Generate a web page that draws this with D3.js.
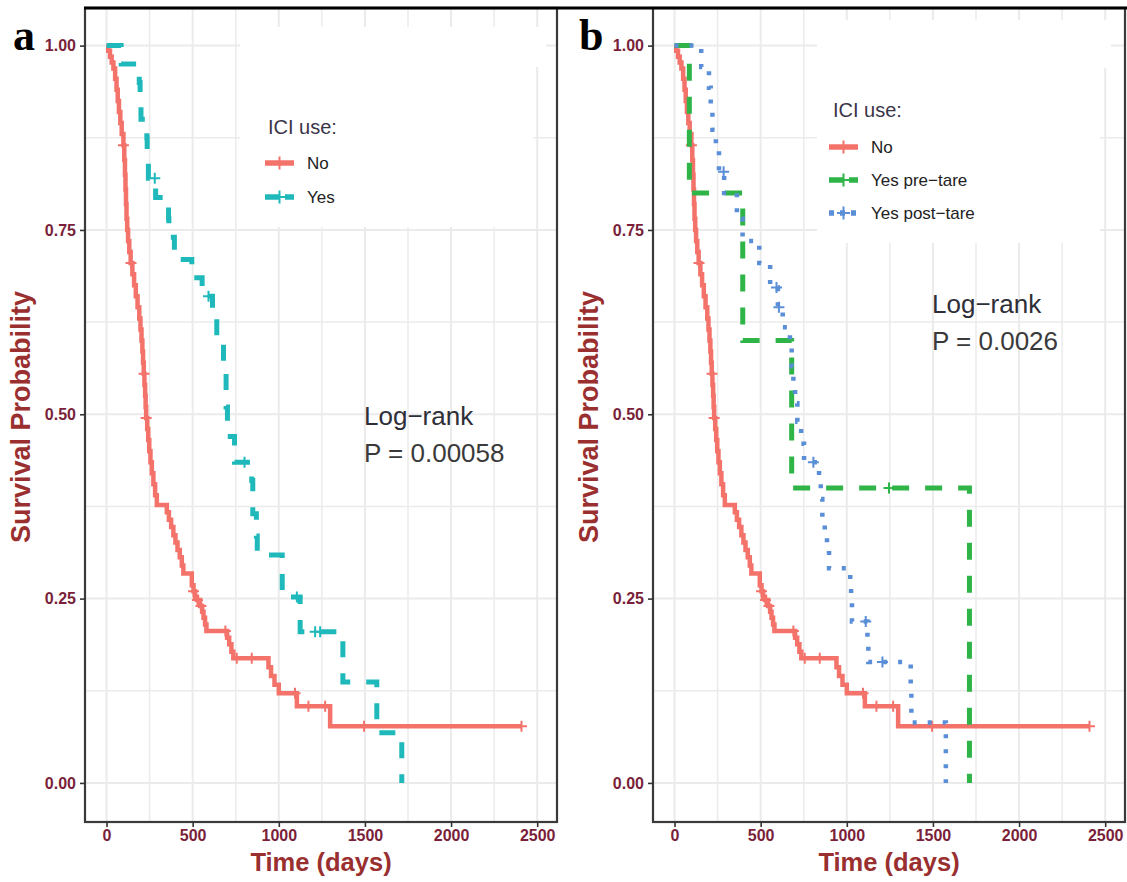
<!DOCTYPE html>
<html>
<head>
<meta charset="utf-8">
<script src="https://cdn.jsdelivr.net/npm/d3@7"></script>
<style>
  body { margin: 0; background: #fff; }
  svg { display: block; }
</style>
</head>
<body>
<div id="container"></div>
<script>
const width = 1127;
const height = 882;

// ICI use: No  (same cohort in both panels)
const noTime = [0, 10, 20, 30, 40, 50, 58, 65, 72, 80, 88, 98, 103, 107, 110, 113, 116, 120, 125, 132,
  140, 150, 160, 170, 180, 190, 197, 203, 208, 212, 216, 220, 224, 227, 230, 236, 242, 248, 255, 263,
  272, 282, 292, 350, 362, 375, 388, 400, 412, 425, 437, 446, 495, 505, 514, 525, 543, 555, 563, 572,
  580, 700, 712, 725, 736, 940, 955, 975, 1000, 1105, 1298];
const noSurv = [1, 0.993, 0.985, 0.977, 0.969, 0.955, 0.94, 0.925, 0.91, 0.895, 0.88, 0.865, 0.845, 0.825, 0.805, 0.785, 0.765, 0.75, 0.735, 0.72,
  0.705, 0.69, 0.675, 0.66, 0.645, 0.63, 0.615, 0.6, 0.585, 0.57, 0.555, 0.54, 0.525, 0.51, 0.495, 0.48, 0.465, 0.45, 0.435, 0.42,
  0.405, 0.39, 0.377, 0.367, 0.357, 0.347, 0.336, 0.326, 0.316, 0.306, 0.295, 0.284, 0.268, 0.26, 0.252, 0.248, 0.24, 0.232, 0.224, 0.215,
  0.206, 0.197, 0.188, 0.178, 0.169, 0.157, 0.145, 0.133, 0.1215, 0.104, 0.077];
const noCensor = [98, 142, 218, 230, 505, 528, 548, 690, 756, 843, 1094, 1172, 1269, 1495, 2409];
const noEnd = 2409;

// ICI use: Yes (panel a)
const yesTime = [0, 85, 190, 195, 200, 234, 236, 243, 285, 360, 362, 394, 495, 555, 615, 640, 679, 694, 702, 743,
  843, 849, 870, 875, 1020, 1124, 1372, 1569, 1714];
const yesSurv = [1, 0.975, 0.95, 0.925, 0.9, 0.875, 0.85, 0.82, 0.794, 0.765, 0.74, 0.71, 0.685, 0.66, 0.634, 0.605, 0.555, 0.51, 0.47, 0.435,
  0.41, 0.365, 0.335, 0.309, 0.252, 0.205, 0.137, 0.068, 0];
const yesCensor = [280, 592, 801, 1105, 1211, 1240];

// Yes pre-tare (panel b)
const preTime = [0, 86, 396, 680, 1712];
const preSurv = [1, 0.8, 0.6, 0.4, 0];
const preCensor = [1245];

// Yes post-tare (panel b)
const postTime = [0, 155, 200, 210, 220, 240, 258, 288, 362, 395, 492, 555, 600, 628, 670, 680, 690, 700, 713, 735,
  752, 839, 849, 858, 872, 885, 897, 1020, 1025, 1030, 1120, 1125, 1371, 1375, 1575];
const postSurv = [1, 0.971, 0.943, 0.914, 0.886, 0.857, 0.829, 0.80, 0.765, 0.735, 0.705, 0.672, 0.645, 0.618, 0.59, 0.565, 0.54, 0.515, 0.49, 0.46,
  0.435, 0.41, 0.385, 0.36, 0.34, 0.315, 0.291, 0.27, 0.245, 0.219, 0.19, 0.164, 0.123, 0.082, 0];
const postCensor = [285, 592, 606, 806, 1110, 1207];

const xTicks = [0, 500, 1000, 1500, 2000, 2500];
const xMinor = [250, 750, 1250, 1750, 2250];
const yTicks = [0, 0.25, 0.5, 0.75, 1];
const yMinor = [0.125, 0.375, 0.625, 0.875];

const colNo = "#f3736b";
const colYes = "#1fb9bb";
const colPre = "#2fb448";
const colPost = "#5a8fd8";

const tickColor = "#7a1f3a";
const titleColor = "#9a2f30";
const font = "'Liberation Sans', Arial, sans-serif";

const plotTop = 8, plotBottom = 822, panelW = 472;

const series = {
  no:   {time: noTime, surv: noSurv, censor: noCensor, end: noEnd, color: colNo, dash: null, w: 4.5},
  yes:  {time: yesTime, surv: yesSurv, censor: yesCensor, end: 1714, color: colYes, dash: "16,16", w: 5},
  pre:  {time: preTime, surv: preSurv, censor: preCensor, end: 1712, color: colPre, dash: "17,16", w: 5},
  post: {time: postTime, surv: postSurv, censor: postCensor, end: 1575, color: colPost, dash: "4,11", w: 4.5}
};

const panels = [
  {
    left: 85, label: "a", labelX: 13,
    lines: ["no", "yes"], names: ["No", "Yes"],
    legendTitle: [268, 134], keyX: [265, 294], labelTx: 307, keyY: [163, 197],
    boxes: [[240, 27, 293, 200], [240, 27, 306, 40]],
    logrank: [364, 425, 462], p: "P = 0.00058"
  },
  {
    left: 653, label: "b", labelX: 579,
    lines: ["no", "pre", "post"], names: ["No", "Yes pre\u2212tare", "Yes post\u2212tare"],
    legendTitle: [833, 117], keyX: [829, 858], labelTx: 871, keyY: [147, 180, 213],
    boxes: [[817, 20, 283, 223], [817, 20, 294, 48]],
    logrank: [932, 313, 350], p: "P = 0.0026"
  }
];

const svg = d3.create("svg")
  .attr("width", width)
  .attr("height", height)
  .attr("viewBox", [0, 0, width, height])
  .style("font-family", font);

svg.append("rect").attr("width", width).attr("height", height).attr("fill", "#fff");

const plus = (g, cx, cy, color, r = 5.5, sw = 2) => {
  g.append("path")
    .attr("d", `M${cx - r},${cy}H${cx + r}M${cx},${cy - r}V${cy + r}`)
    .attr("stroke", color)
    .attr("stroke-width", sw)
    .attr("fill", "none");
};

panels.forEach(p => {
  const x = d3.scaleLinear().domain([-125, 2615]).range([p.left, p.left + panelW]);
  const y = d3.scaleLinear().domain([-0.053, 1.051]).range([plotBottom, plotTop]);
  const g = svg.append("g");

  // grid
  const grid = g.append("g").attr("stroke", "#ebebeb").attr("fill", "none");
  xMinor.forEach(v => grid.append("line").attr("x1", x(v)).attr("x2", x(v)).attr("y1", plotTop).attr("y2", plotBottom).attr("stroke-width", 1.5));
  yMinor.forEach(v => grid.append("line").attr("y1", y(v)).attr("y2", y(v)).attr("x1", p.left).attr("x2", p.left + panelW).attr("stroke-width", 1.5));
  xTicks.forEach(v => grid.append("line").attr("x1", x(v)).attr("x2", x(v)).attr("y1", plotTop).attr("y2", plotBottom).attr("stroke-width", 2));
  yTicks.forEach(v => grid.append("line").attr("y1", y(v)).attr("y2", y(v)).attr("x1", p.left).attr("x2", p.left + panelW).attr("stroke-width", 2));

  // legend background covers grid
  p.boxes.forEach(b => g.append("rect").attr("x", b[0]).attr("y", b[1]).attr("width", b[2]).attr("height", b[3]).attr("fill", "#fff"));

  // survival curves
  const line = d3.line().x(d => x(d[0])).y(d => y(d[1])).curve(d3.curveStepAfter);
  p.lines.forEach(key => {
    const s = series[key];
    const pts = s.time.map((t, i) => [t, s.surv[i]]);
    if (s.end > s.time[s.time.length - 1]) pts.push([s.end, s.surv[s.surv.length - 1]]);
    g.append("path")
      .attr("d", line(pts))
      .attr("fill", "none")
      .attr("stroke", s.color)
      .attr("stroke-width", s.w)
      .attr("stroke-dasharray", s.dash);
    s.censor.forEach(t => {
      const i = d3.bisectRight(s.time, t) - 1;
      plus(g, x(t), y(s.surv[i]), s.color);
    });
  });

  // frame
  g.append("rect")
    .attr("x", p.left).attr("y", plotTop)
    .attr("width", panelW).attr("height", plotBottom - plotTop)
    .attr("fill", "none").attr("stroke", "#3a3a3a").attr("stroke-width", 2.2);

  // axes
  g.append("g")
    .attr("transform", `translate(0,${plotBottom})`)
    .call(d3.axisBottom(x).tickValues(xTicks).tickSize(5).tickPadding(3).tickFormat(d3.format("d")))
    .call(a => a.select(".domain").remove())
    .call(a => a.selectAll("line").attr("stroke", "#333").attr("stroke-width", 1.6))
    .call(a => a.selectAll("text").attr("fill", tickColor).attr("font-size", 16).attr("font-weight", "bold").attr("font-family", font));

  g.append("g")
    .attr("transform", `translate(${p.left},0)`)
    .call(d3.axisLeft(y).tickValues(yTicks).tickSize(5).tickPadding(4).tickFormat(d3.format(".2f")))
    .call(a => a.select(".domain").remove())
    .call(a => a.selectAll("line").attr("stroke", "#333").attr("stroke-width", 1.6))
    .call(a => a.selectAll("text").attr("fill", tickColor).attr("font-size", 16).attr("font-weight", "bold").attr("font-family", font));

  // axis titles
  g.append("text")
    .attr("x", p.left + panelW / 2).attr("y", 871)
    .attr("text-anchor", "middle")
    .attr("font-size", 25.5).attr("font-weight", "bold")
    .attr("fill", titleColor)
    .text("Time (days)");

  g.append("text")
    .attr("transform", `translate(${p.left - 55},417) rotate(-90)`)
    .attr("text-anchor", "middle")
    .attr("font-size", 27).attr("font-weight", "bold")
    .attr("fill", titleColor)
    .text("Survival Probability");

  // legend
  g.append("text")
    .attr("x", p.legendTitle[0]).attr("y", p.legendTitle[1])
    .attr("font-size", 20).attr("fill", "#3b3548")
    .text("ICI use:");

  p.lines.forEach((key, i) => {
    const s = series[key];
    const ky = p.keyY[i];
    g.append("line")
      .attr("x1", p.keyX[0]).attr("x2", p.keyX[1])
      .attr("y1", ky).attr("y2", ky)
      .attr("stroke", s.color).attr("stroke-width", 5.5)
      .attr("stroke-dasharray", key === "post" ? "5,6" : key === "no" ? null : "14,6");
    plus(g, (p.keyX[0] + p.keyX[1]) / 2, ky, s.color, 6.5, 2);
    g.append("text")
      .attr("x", p.labelTx).attr("y", ky + 6)
      .attr("font-size", 17).attr("fill", "#222")
      .text(p.names[i]);
  });

  // log-rank annotation
  g.append("text")
    .attr("x", p.logrank[0]).attr("y", p.logrank[1])
    .attr("font-size", 26).attr("fill", "#2e2e38")
    .text("Log\u2212rank");
  g.append("text")
    .attr("x", p.logrank[0]).attr("y", p.logrank[2])
    .attr("font-size", 26).attr("fill", "#3a3a3a")
    .text(p.p);

  // panel letter
  svg.append("text")
    .attr("x", p.labelX).attr("y", 50)
    .attr("font-family", "'Liberation Serif', 'Times New Roman', serif")
    .attr("font-size", 44).attr("font-weight", "bold")
    .attr("fill", "#000")
    .text(p.label);
});

// figure top rule
svg.append("line")
  .attr("x1", 84).attr("x2", width).attr("y1", 8).attr("y2", 8)
  .attr("stroke", "#000").attr("stroke-width", 3);

document.getElementById("container").appendChild(svg.node());
</script>
</body>
</html>
